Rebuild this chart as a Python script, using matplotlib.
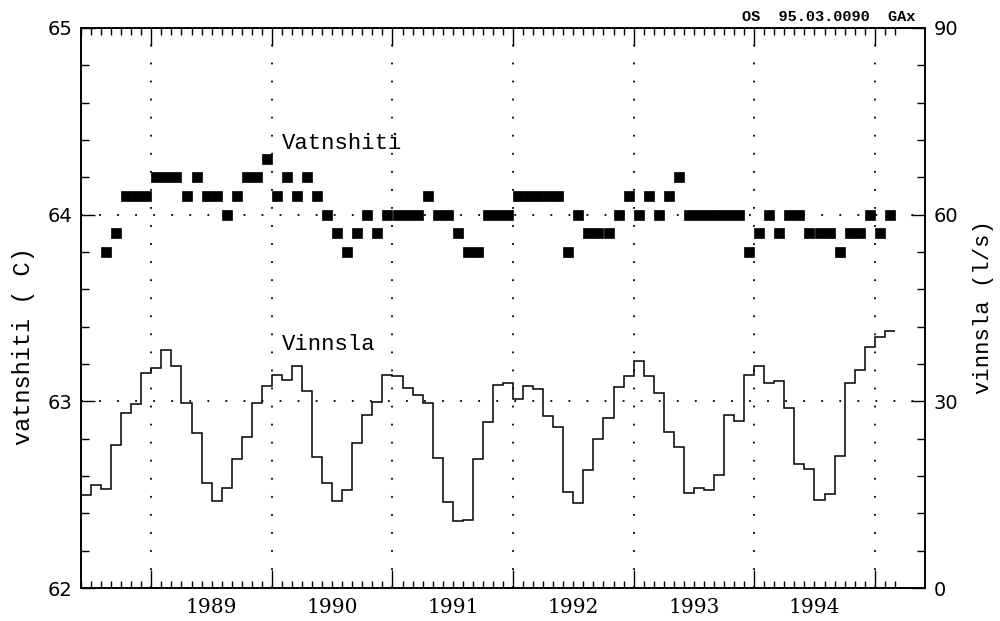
import numpy as np
import matplotlib
matplotlib.use('Agg')
from matplotlib import pyplot as plt
from matplotlib import transforms
from matplotlib.ticker import MultipleLocator

##

# monthly means, first value is June 1988
first_month = 1988 + 5/12
flow_lps = [15.0, 16.5, 15.9, 23.0, 28.2, 29.6, 34.6, 35.4, 38.3, 35.6, 29.7, 24.9,
            16.9, 14.0, 16.0, 20.7, 24.3, 29.8, 32.4, 34.2, 33.5, 35.7, 31.6, 21.1,
            16.9, 14.0, 15.8, 23.3, 27.8, 29.9, 34.2, 34.0, 32.2, 31.0, 29.8, 20.9,
            13.9, 10.8, 11.0, 20.8, 26.6, 32.6, 33.0, 30.3, 32.5, 31.9, 27.6, 25.8,
            15.5, 13.7, 19.0, 23.9, 27.3, 32.3, 34.1, 36.5, 34.1, 31.4, 25.1, 22.7,
            15.3, 16.0, 15.8, 18.2, 27.8, 26.8, 34.2, 35.7, 33.0, 33.2, 28.9, 20.0,
            19.2, 14.1, 15.1, 21.2, 32.9, 35.0, 38.8, 40.4, 41.3]

# temperature starts two months later (Aug 1988)
temp_offset = 2
temp_c = [63.8, 63.9, 64.1, 64.1, 64.1,
          64.2, 64.2, 64.2, 64.1, 64.2, 64.1, 64.1, 64.0, 64.1, 64.2, 64.2, 64.3,
          64.1, 64.2, 64.1, 64.2, 64.1, 64.0, 63.9, 63.8, 63.9, 64.0, 63.9, 64.0,
          64.0, 64.0, 64.0, 64.1, 64.0, 64.0, 63.9, 63.8, 63.8, 64.0, 64.0, 64.0,
          64.1, 64.1, 64.1, 64.1, 64.1, 63.8, 64.0, 63.9, 63.9, 63.9, 64.0, 64.1,
          64.0, 64.1, 64.0, 64.1, 64.2, 64.0, 64.0, 64.0, 64.0, 64.0, 64.0, 63.8,
          63.9, 64.0, 63.9, 64.0, 64.0, 63.9, 63.9, 63.9, 63.8, 63.9, 63.9, 64.0,
          63.9, 64.0]

years = [1989, 1990, 1991, 1992, 1993, 1994]
temp_ticks = [62, 63, 64, 65]
flow_ticks = [0, 30, 60, 90]

##

mono = 'Liberation Mono'
dots = (0, (1.0, 9.0))

fig = plt.figure(figsize=(10, 6.21), dpi=100)
ax = fig.add_axes([0.081, 0.0531, 0.844, 0.902])
ax2 = ax.twinx()

edges = first_month + np.arange(len(flow_lps) + 1) / 12
tx = first_month + (temp_offset + np.arange(len(temp_c)) + 0.5) / 12

ax.plot(tx, temp_c, 's', color='k', ms=6.5, mec='k', mew=0.5)
ax2.stairs(flow_lps, edges, baseline=None, color='k', lw=1.1)

# dotted grid at year boundaries and at 63 / 64
for yr in years + [1995]:
    ax.axvline(yr, color='k', ls=dots, lw=1.3, zorder=0)
for t in [63, 64]:
    ax.axhline(t, color='k', ls=dots, lw=1.3, zorder=0)

ax.set_xlim(first_month, 1995 + 5/12)
ax.set_ylim(62, 65)
ax2.set_ylim(0, 90)

ax.set_xticks(years + [1995])
ax.set_xticks(edges, minor=True)
ax.tick_params(axis='x', which='both', direction='in', top=True, bottom=True,
               labelbottom=False, width=1.0)
ax.tick_params(axis='x', which='major', length=13)
ax.tick_params(axis='x', which='minor', length=5)

ax.set_yticks(temp_ticks)
ax.yaxis.set_minor_locator(MultipleLocator(0.2))
ax.tick_params(axis='y', which='both', direction='in', width=1.0, labelsize=14, pad=6)
ax.tick_params(axis='y', which='major', length=10)
ax.tick_params(axis='y', which='minor', length=6)

ax2.set_yticks(flow_ticks)
ax2.yaxis.set_minor_locator(MultipleLocator(6))
ax2.tick_params(axis='y', which='both', direction='in', width=1.0, labelsize=14, pad=6)
ax2.tick_params(axis='y', which='major', length=10)
ax2.tick_params(axis='y', which='minor', length=6)

for a in (ax, ax2):
    for s in a.spines.values():
        s.set_linewidth(1.2)

# year names sit in the middle of each year
trans = transforms.blended_transform_factory(ax.transData, ax.transAxes)
for yr in years:
    ax.text(yr + 0.5, -0.035, str(yr), transform=trans, ha='center', va='center',
            family='DejaVu Serif', fontsize=14.5)

ax.text(1990.08, 64.38, 'Vatnshiti', ha='left', va='center', family=mono, fontsize=16)
ax2.text(1990.08, 39.2, 'Vinnsla', ha='left', va='center', family=mono, fontsize=16)

fig.text(0.024, 0.443, 'vatnshiti ( C)', rotation=90, ha='center', va='center',
         family=mono, fontsize=17)
fig.text(0.983, 0.505, 'vinnsla (l/s)', rotation=90, ha='center', va='center',
         family=mono, fontsize=16)
fig.text(0.915, 0.973, 'OS  95.03.0090  GAx', ha='right', va='center',
         family=mono, weight='bold', fontsize=11)

fig.savefig('out.png', dpi=100)
